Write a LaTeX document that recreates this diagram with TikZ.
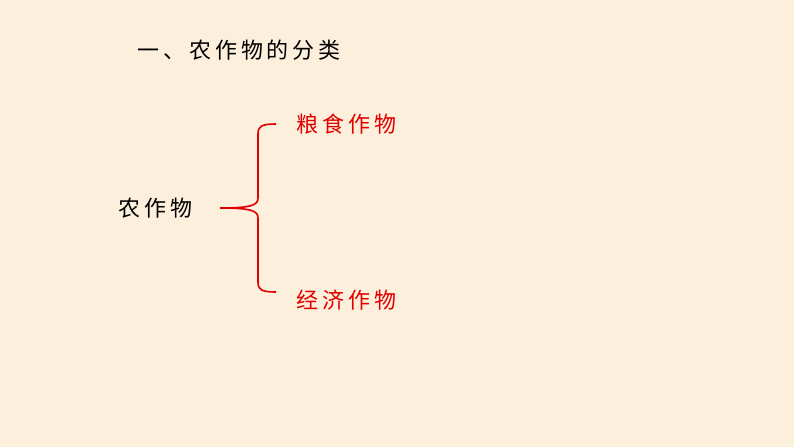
\documentclass[tikz,border=0pt]{standalone}
\usepackage{fontspec}
\newfontfamily\cjk[LetterSpace=18]{Noto Sans CJK SC}
\definecolor{bg}{HTML}{FCEFDC}
\definecolor{myred}{HTML}{E00000}
\tikzset{lbl/.style={font=\cjk\fontsize{22}{24}\selectfont, inner sep=0pt},
 brace/.style={draw=myred, line width=1.6pt}}
\begin{document}
\begin{tikzpicture}[x=1pt,y=-1pt]
\fill[bg] (0,0) rectangle (794,447);
\useasboundingbox (0,0) rectangle (794,447);
\node[lbl, anchor=west] (t) at (137,50) {一、农作物的分类};
\node[lbl, anchor=west] (n) at (118,208) {农作物};
\node[lbl, anchor=west, text=myred] (a) at (296,124) {粮食作物};
\node[lbl, anchor=west, text=myred] (b) at (296,300) {经济作物};
\coordinate (tip) at (220,208);
\draw[brace] (276,124) .. controls (262,124) and (258,126) .. (258,134)
  -- (258,198) .. controls (258,205) and (252,208) .. (tip)
  (258,218) -- (258,282) .. controls (258,290) and (262,292) .. (276,292);
\draw[brace] (tip) .. controls (252,208) and (258,211) .. (258,218);
\end{tikzpicture}
\end{document}
